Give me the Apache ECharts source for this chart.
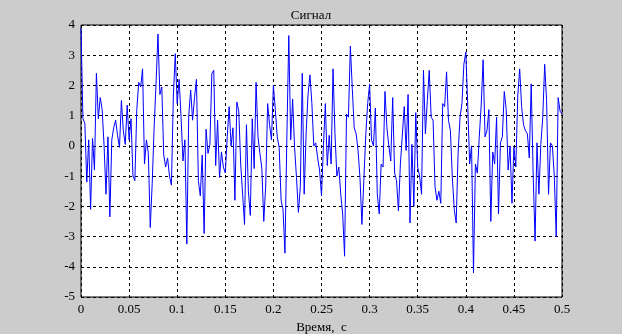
<!DOCTYPE html>
<html>
<head>
<meta charset="utf-8">
<script src="https://cdn.jsdelivr.net/npm/echarts@6/dist/echarts.min.js"></script>
<style>
  html, body { margin: 0; padding: 0; background: #cccccc; }
  #chart { width: 622px; height: 334px; }
</style>
</head>
<body>
<div id="chart"></div>
<script>
// sample step, s
var dt = 0.002;

// signal values, one per sample
var signal = [
  3.9, 0.9, 0.75, -1.2, 0.2, -2.1, 0.25, -0.8, 2.4, 0.9,
  1.6, 1.2, 0.0, -1.6, 0.3, -2.35, 0.2, 0.6, 0.85, 0.35,
  -0.05, 1.5, 0.5, 0.05, 1.35, 0.2, 0.9, -1.0, -1.15, 1.2,
  2.1, 1.95, 2.55, -0.6, 0.2, -0.25, -2.7, -1.25, 0.6, 2.05,
  3.7, 1.7, 1.95, -0.3, -0.7, -0.4, -1.0, -1.3, 1.65, 3.05,
  1.4, 2.2, 0.95, -0.5, 0.2, -3.25, 1.0, 1.85, 0.85, 1.6,
  2.2, -1.15, -1.65, -0.3, -2.9, 0.55, -0.25, 0.05, 2.4, 2.5,
  -0.65, 0.85, -1.05, -0.2, -0.7, -0.9, 0.3, 1.3, 0.0, 0.6,
  -1.8, 1.45, 1.15, -0.6, -1.6, -2.6, 0.7, -1.5, -2.3, 0.9,
  -0.75, 2.1, 0.3, -0.25, -0.75, -2.5, -1.3, 1.4, 0.7, 0.2,
  2.0, 1.2, 0.3, -0.05, -1.8, -2.1, -3.55, 0.3, 3.65, 0.2,
  1.55, -0.05, -1.05, -2.2, -1.35, 2.4, -1.6, 0.4, 1.7, 2.35,
  1.4, 0.0, 0.1, -0.4, -0.8, -1.65, 0.0, 1.4, -0.65, 0.35,
  -0.6, 2.55, 0.4, -1.0, -0.7, -1.6, -2.25, -3.65, 1.05, 0.95,
  3.3, 1.9, 0.6, 0.4, -0.15, -1.05, -2.6, -1.15, 0.35, 1.4,
  2.05, 0.2, 0.0, 1.25, -1.6, -2.25, -0.6, -0.7, 1.8, 0.6,
  0.0, -0.5, 1.6, -0.9, -1.15, -2.15, -0.6, -0.6, 1.3, -0.15,
  1.7, -2.55, 0.05, -2.0, 1.1, -0.7, -1.0, -1.6, 2.5, 0.4,
  1.5, 2.5, 0.95, 0.85, -1.35, -1.8, -1.5, -1.9, 1.4, 1.3,
  2.45, 0.85, 0.5, -1.05, -2.1, -2.55, -0.25, 0.95, 1.4, 2.7,
  3.1, 1.35, -0.6, 0.0, -4.2, -0.6, -0.9, 0.3, 1.35, 2.85,
  0.3, 0.5, 1.2, -2.5, -0.2, -0.6, 0.95, -2.25, 0.1, 0.3,
  1.8, 1.2, -0.8, 0.0, -1.9, -0.05, -0.7, 1.65, 2.55, 1.3,
  0.7, 0.5, 0.4, -0.4, 2.05, -0.9, -3.15, 0.1, -1.6, 0.05,
  0.95, 2.7, 1.5, -1.6, 0.1, 0.0, -1.0, -3.0, 1.6, 1.15,
  1.05
];

var xRange = [0, 0.5];
var yRange = [-5, 4];

var points = signal.map(function (v, i) {
  return [+(i * dt).toFixed(3), v];
});

var chart = echarts.init(document.getElementById('chart'), null, { renderer: 'canvas' });

var font = '"Liberation Serif", "DejaVu Serif", serif';
var dashed = { color: '#000', width: 1, type: [3, 3] };

var option = {
  animation: false,
  backgroundColor: '#cccccc',
  textStyle: { fontFamily: font },
  title: {
    text: 'Сигнал',
    left: 'center',
    top: 4,
    textStyle: { fontSize: 13, fontWeight: 'normal', color: '#000', fontFamily: font }
  },
  grid: {
    left: 81,
    right: 60,
    top: 25,
    bottom: 37,
    outerBoundsMode: 'none',
    containLabel: false,
    show: true,
    backgroundColor: '#fff',
    borderColor: '#000',
    borderWidth: 1
  },
  xAxis: {
    type: 'value',
    min: xRange[0],
    max: xRange[1],
    interval: 0.05,
    name: 'Время,  с',
    nameLocation: 'middle',
    nameGap: 23,
    nameTextStyle: { fontSize: 13, color: '#000', fontFamily: font },
    axisLine: { show: false },
    axisTick: { show: false },
    axisLabel: {
      color: '#000',
      fontSize: 13,
      margin: 6,
      fontFamily: font,
      formatter: function (v) { return String(+v.toFixed(2)); }
    },
    splitLine: { show: true, lineStyle: dashed }
  },
  yAxis: {
    type: 'value',
    min: yRange[0],
    max: yRange[1],
    interval: 1,
    axisLine: { show: false },
    axisTick: { show: false },
    axisLabel: { color: '#000', fontSize: 13, margin: 6, fontFamily: font },
    splitLine: { show: true, lineStyle: dashed }
  },
  series: [
    {
      type: 'line',
      data: points,
      showSymbol: false,
      symbol: 'none',
      lineStyle: { color: '#0000ff', width: 1 },
      clip: true
    }
  ]
};

chart.setOption(option);
</script>
</body>
</html>
